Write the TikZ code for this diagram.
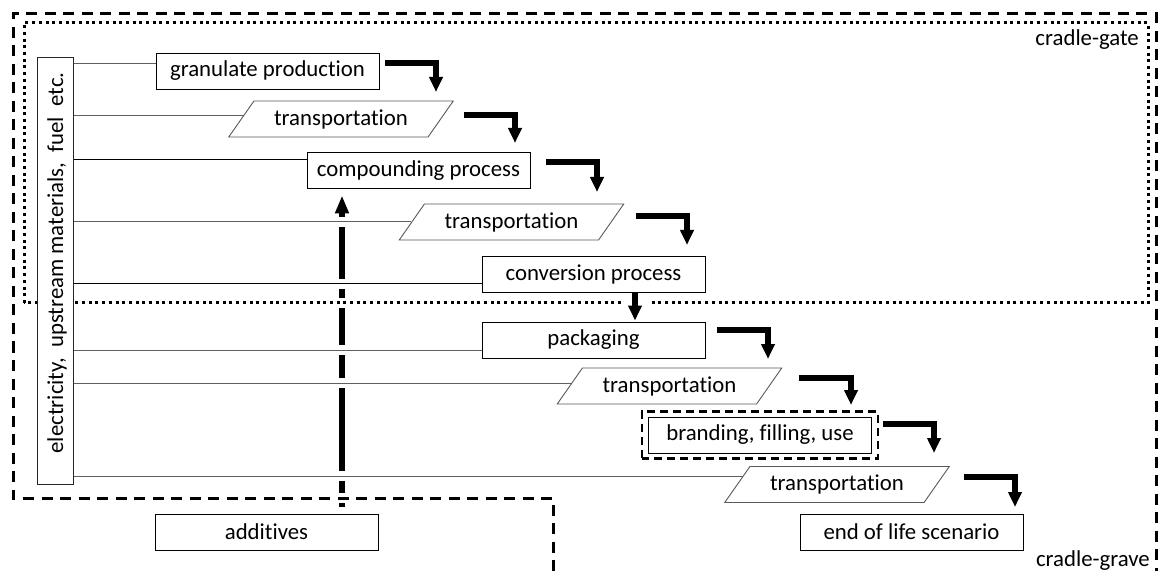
\documentclass[tikz,border=0pt]{standalone}
\usepackage{fontspec}
\setmainfont{Carlito}[Ligatures=NoCommon]
\usetikzlibrary{arrows.meta,calc,shapes.geometric}
\pgfdeclarelayer{lone}
\pgfdeclarelayer{ltwo}
\pgfsetlayers{lone,ltwo,main}
\begin{document}
\begin{tikzpicture}[x=1pt,y=1pt,
  font=\fontsize{22.8}{27}\selectfont,
  box/.style={draw=black,line width=0.9pt,fill=white,minimum width=223pt,minimum height=36pt,inner sep=0pt},
  para/.style={trapezium,trapezium left angle=45,trapezium right angle=135,trapezium stretches=true,draw=gray!70!black,line width=0.9pt,fill=white,minimum width=225pt,minimum height=36pt,inner sep=0pt},
  feed/.style={line width=1pt,draw=gray!75!black,preaction={draw=white,solid,line width=10pt,shorten >=3pt,shorten <=3pt}},
  feedk/.style={feed,draw=black},
  flow/.style={line width=6pt,line join=miter,-{Triangle[width=13pt,length=15pt]}},
  addarrow/.style={line width=6.5pt,-{Triangle[width=13pt,length=18pt]}},
  gravedash/.style={line width=3pt,dash pattern=on 11pt off 7.5pt,preaction={draw=white,solid,line width=10pt}},
  gatedot/.style={line width=3pt,dash pattern=on 3pt off 3.7pt,preaction={draw=white,solid,line width=10pt}},
  brdash/.style={line width=2.5pt,dash pattern=on 8pt off 5pt},
  label/.style={anchor=base east,inner sep=0pt}
]
\useasboundingbox (0,0) rectangle (1159,571);

% nodes
\node[box] (gp) at (267.5,500) {granulate production};
\node[para] (tr1) at (341,452) {transportation};
\node[box] (cp) at (418.5,400.5) {compounding process};
\node[para] (tr2) at (511.5,349) {transportation};
\node[box] (cv) at (593.5,297) {conversion process};
\node[box] (pk) at (593.5,231) {packaging};
\node[para] (tr3) at (669.5,185) {transportation};
\node[box] (br) at (760,136) {branding, filling, use};
\node[para] (tr4) at (837,86.5) {transportation};
\node[box] (eol) at (911.5,39) {end of life scenario};
\node[box] (add) at (266.5,39) {additives};
\node[draw=black!85,line width=0.9pt,fill=white,minimum width=36pt,minimum height=427pt,inner sep=0pt] (elec) at (55,300.5) {};
\node[rotate=90,inner sep=0pt] (electxt) at (57,308) {electricity,\ \ upstream materials,\ \ fuel\ \ etc.};

\node[label] (cgate) at (1139,525) {cradle-gate};
\node[label] (cgrave) at (1150,5) {cradle-grave};

% additive arrow (bottom layer)
\begin{pgfonlayer}{lone}
\draw[addarrow] ($(add.north)+(75.5,7)$) -- ($(cp.south)+(-76.5,-6.5)$);
\end{pgfonlayer}

% frames and feed lines
\begin{pgfonlayer}{ltwo}
\draw[gravedash] (553,0) -- (553,73) -- (13,73) -- (13,557) -- (1156,557) -- (1156,0);
\draw[gatedot] (24,268) rectangle (1148,548);
\coordinate (f1) at ($(gp.west)+(0,7)$);
\coordinate (f2) at ($(tr1.west)+(3,3)$);
\coordinate (f3) at ($(cp.west)+(0,10.5)$);
\coordinate (f4) at (tr2.west);
\coordinate (f5) at ($(cv.west)+(0,-10)$);
\coordinate (f6) at ($(pk.west)+(0,-10)$);
\coordinate (f7) at ($(tr3.west)+(3,3)$);
\coordinate (f8) at ($(tr4.west)+(8.5,8.5)$);
\draw[feed] (elec.east |- f1) -- (f1);
\draw[feed] (elec.east |- f2) -- (f2);
\draw[feedk] (elec.east |- f3) -- (f3);
\draw[feed] (elec.east |- f4) -- (f4);
\draw[feedk] (elec.east |- f5) -- (f5);
\draw[feed] (elec.east |- f6) -- (f6);
\draw[feed] (elec.east |- f7) -- (f7);
\draw[feed] (elec.east |- f8) -- (f8);
\end{pgfonlayer}

% flow arrows
\draw[flow] ($(gp)+(117.5,8)$) -| ($(tr1)+(95,27)$);
\draw[flow] ($(tr1)+(123,4)$) -| ($(cp)+(96.5,27.5)$);
\draw[flow] ($(cp)+(127.5,8.5)$) -| ($(tr2)+(85.5,30)$);
\draw[flow] ($(tr2)+(124.5,6)$) -| ($(cv)+(93.5,29)$);
\fill[white] ($(cv.south)+(31.5,-8)$) rectangle ($(cv.south)+(54.5,-14)$);
\draw[flow] ($(cv.south)+(41.5,-1)$) -- ($(pk.north)+(41.5,1)$);
\draw[flow] ($(pk)+(123.5,10)$) -| ($(tr3)+(98.5,27)$);
\draw[flow] ($(tr3)+(129.5,8)$) -| ($(br)+(91,30)$);
\draw[flow] ($(br)+(123,11)$) -| ($(tr4)+(97,31.5)$);
\draw[flow] ($(tr4)+(127,7.5)$) -| ($(eol)+(103.5,25)$);

% use-phase dashed frame
\draw[brdash] ($(br.south west)+(-6,-5)$) rectangle ($(br.north east)+(6,5)$);
\end{tikzpicture}
\end{document}
